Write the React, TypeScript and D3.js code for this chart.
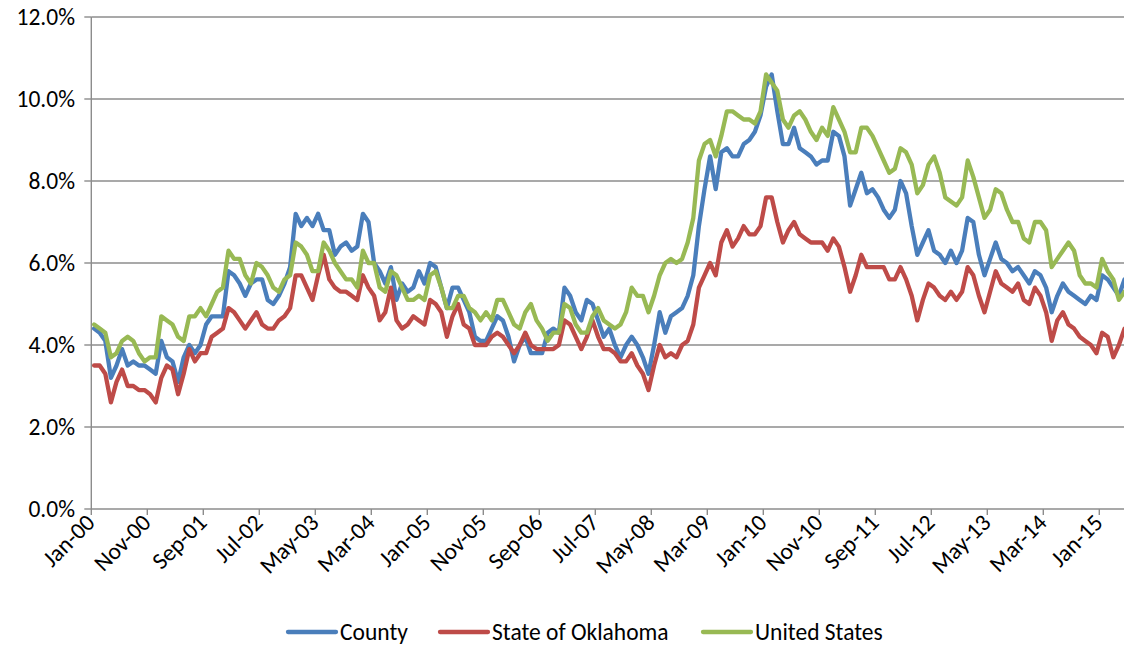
import React from 'react'
import * as d3 from 'd3'

// monthly unemployment rate, Jan-00 .. May-15 (percent)
const county = [
  4.4, 4.3, 4.1, 3.2, 3.5, 3.9, 3.5, 3.6, 3.5, 3.5, 3.4, 3.3,
  4.1, 3.7, 3.6, 3.1, 3.7, 4.0, 3.8, 4.0, 4.5, 4.7, 4.7, 4.7,
  5.8, 5.7, 5.5, 5.2, 5.5, 5.6, 5.6, 5.1, 5.0, 5.2, 5.5, 5.9,
  7.2, 6.9, 7.1, 6.9, 7.2, 6.8, 6.8, 6.2, 6.4, 6.5, 6.3, 6.4,
  7.2, 7.0, 6.0, 5.8, 5.5, 5.9, 5.1, 5.5, 5.3, 5.4, 5.8, 5.5,
  6.0, 5.9, 5.4, 4.9, 5.4, 5.4, 5.1, 4.8, 4.2, 4.1, 4.1, 4.4,
  4.7, 4.6, 4.2, 3.6, 4.0, 4.2, 3.8, 3.8, 3.8, 4.3, 4.4, 4.3,
  5.4, 5.2, 4.8, 4.6, 5.1, 5.0, 4.6, 4.2, 4.4, 4.0, 3.7, 4.0,
  4.2, 4.0, 3.7, 3.3, 4.0, 4.8, 4.3, 4.7, 4.8, 4.9, 5.2, 5.7,
  6.9, 7.8, 8.6, 7.8, 8.7, 8.8, 8.6, 8.6, 8.9, 9.0, 9.2, 9.6,
  10.3, 10.6, 9.7, 8.9, 8.9, 9.3, 8.8, 8.7, 8.6, 8.4, 8.5, 8.5,
  9.2, 9.1, 8.6, 7.4, 7.8, 8.2, 7.7, 7.8, 7.6, 7.3, 7.1, 7.3,
  8.0, 7.7, 6.9, 6.2, 6.5, 6.8, 6.3, 6.2, 6.0, 6.3, 6.0, 6.3,
  7.1, 7.0, 6.2, 5.7, 6.1, 6.5, 6.1, 6.0, 5.8, 5.9, 5.7, 5.5,
  5.8, 5.7, 5.4, 4.8, 5.2, 5.5, 5.3, 5.2, 5.1, 5.0, 5.2, 5.1,
  5.7, 5.6, 5.4, 5.2, 5.6,
]

const oklahoma = [
  3.5, 3.5, 3.3, 2.6, 3.1, 3.4, 3.0, 3.0, 2.9, 2.9, 2.8, 2.6,
  3.2, 3.5, 3.4, 2.8, 3.3, 3.9, 3.6, 3.8, 3.8, 4.2, 4.3, 4.4,
  4.9, 4.8, 4.6, 4.4, 4.6, 4.8, 4.5, 4.4, 4.4, 4.6, 4.7, 4.9,
  5.7, 5.7, 5.4, 5.1, 5.7, 6.2, 5.6, 5.4, 5.3, 5.3, 5.2, 5.1,
  5.7, 5.4, 5.2, 4.6, 4.8, 5.4, 4.6, 4.4, 4.5, 4.7, 4.6, 4.5,
  5.1, 5.0, 4.8, 4.2, 4.7, 5.0, 4.5, 4.4, 4.0, 4.0, 4.0, 4.2,
  4.3, 4.2, 4.0, 3.8, 4.0, 4.3, 4.0, 3.9, 3.9, 3.9, 3.9, 4.0,
  4.6, 4.5, 4.2, 3.9, 4.2, 4.6, 4.2, 3.9, 3.9, 3.8, 3.6, 3.6,
  3.8, 3.5, 3.3, 2.9, 3.5, 4.0, 3.7, 3.8, 3.7, 4.0, 4.1, 4.5,
  5.4, 5.7, 6.0, 5.7, 6.5, 6.8, 6.4, 6.6, 6.9, 6.7, 6.7, 6.9,
  7.6, 7.6, 7.0, 6.5, 6.8, 7.0, 6.7, 6.6, 6.5, 6.5, 6.5, 6.3,
  6.6, 6.4, 5.9, 5.3, 5.7, 6.2, 5.9, 5.9, 5.9, 5.9, 5.6, 5.6,
  5.9, 5.6, 5.2, 4.6, 5.1, 5.5, 5.4, 5.2, 5.1, 5.3, 5.1, 5.3,
  5.9, 5.7, 5.2, 4.8, 5.3, 5.8, 5.5, 5.4, 5.3, 5.5, 5.1, 5.0,
  5.4, 5.2, 4.8, 4.1, 4.6, 4.8, 4.5, 4.4, 4.2, 4.1, 4.0, 3.8,
  4.3, 4.2, 3.7, 4.0, 4.4,
]

const unitedStates = [
  4.5, 4.4, 4.3, 3.7, 3.8, 4.1, 4.2, 4.1, 3.8, 3.6, 3.7, 3.7,
  4.7, 4.6, 4.5, 4.2, 4.1, 4.7, 4.7, 4.9, 4.7, 5.0, 5.3, 5.4,
  6.3, 6.1, 6.1, 5.7, 5.5, 6.0, 5.9, 5.7, 5.4, 5.3, 5.6, 5.7,
  6.5, 6.4, 6.2, 5.8, 5.8, 6.5, 6.3, 6.0, 5.8, 5.6, 5.6, 5.4,
  6.3, 6.0, 6.0, 5.4, 5.3, 5.8, 5.7, 5.4, 5.1, 5.1, 5.2, 5.1,
  5.7, 5.8, 5.4, 4.9, 4.9, 5.2, 5.2, 4.9, 4.8, 4.6, 4.8, 4.6,
  5.1, 5.1, 4.8, 4.5, 4.4, 4.8, 5.0, 4.6, 4.4, 4.1, 4.3, 4.3,
  5.0, 4.9, 4.5, 4.3, 4.3, 4.7, 4.9, 4.6, 4.5, 4.4, 4.5, 4.8,
  5.4, 5.2, 5.2, 4.8, 5.2, 5.7, 6.0, 6.1, 6.0, 6.1, 6.5, 7.1,
  8.5, 8.9, 9.0, 8.6, 9.1, 9.7, 9.7, 9.6, 9.5, 9.5, 9.4, 9.7,
  10.6, 10.4, 10.2, 9.5, 9.3, 9.6, 9.7, 9.5, 9.2, 9.0, 9.3, 9.1,
  9.8, 9.5, 9.2, 8.7, 8.7, 9.3, 9.3, 9.1, 8.8, 8.5, 8.2, 8.3,
  8.8, 8.7, 8.4, 7.7, 7.9, 8.4, 8.6, 8.2, 7.6, 7.5, 7.4, 7.6,
  8.5, 8.1, 7.6, 7.1, 7.3, 7.8, 7.7, 7.3, 7.0, 7.0, 6.6, 6.5,
  7.0, 7.0, 6.8, 5.9, 6.1, 6.3, 6.5, 6.3, 5.7, 5.5, 5.5, 5.4,
  6.1, 5.8, 5.6, 5.1, 5.3,
]

const tickLabels = [
  'Jan-00', 'Nov-00', 'Sep-01', 'Jul-02', 'May-03', 'Mar-04', 'Jan-05',
  'Nov-05', 'Sep-06', 'Jul-07', 'May-08', 'Mar-09', 'Jan-10', 'Nov-10',
  'Sep-11', 'Jul-12', 'May-13', 'Mar-14', 'Jan-15',
]
const tickEvery = 10
const yTicks = [0, 2, 4, 6, 8, 10, 12]

const series = [
  { name: 'County', values: county, color: '#4a7ebb' },
  { name: 'State of Oklahoma', values: oklahoma, color: '#be4b48' },
  { name: 'United States', values: unitedStates, color: '#98b954' },
]

const W = 1124
const H = 645
const left = 91.3
const monthWidth = 5.6
const right = left + monthWidth * county.length // chart runs slightly past the image edge
const top = 17
const bottom = 509
const font = 'Carlito, Calibri, Lato, sans-serif'
const grid = '#8c8c8c'
const fs = 23.5

const App = () => {
  const x = d3.scaleLinear().domain([-0.5, county.length - 0.5]).range([left, right])
  const y = d3.scaleLinear().domain([0, 12]).range([bottom, top])
  const line = d3.line<number>().x((d, i) => x(i)).y((d) => y(d))

  const legendX = [288, 440, 703]

  return (
    <svg
      width={W}
      height={H}
      style={{ position: 'absolute', left: 0, top: 0, background: '#fff' }}
      fontFamily={font}
    >
      {/* gridlines */}
      {yTicks.filter((t) => t > 0).map((t) => (
        <line key={t} x1={left} x2={right} y1={y(t)} y2={y(t)} stroke={grid} strokeWidth={1.4} />
      ))}
      {/* y axis */}
      <line x1={left} x2={left} y1={top} y2={bottom} stroke={grid} strokeWidth={1.4} />
      {yTicks.map((t) => (
        <g key={t}>
          <line x1={left - 7} x2={left} y1={y(t)} y2={y(t)} stroke={grid} strokeWidth={1.4} />
          <text x={75} y={y(t)} dy="0.36em" textAnchor="end" fontSize={fs} fill="#000">
            {d3.format('.1f')(t)}%
          </text>
        </g>
      ))}
      {/* x axis */}
      <line x1={left} x2={right} y1={bottom} y2={bottom} stroke={grid} strokeWidth={1.4} />
      {tickLabels.map((label, k) => {
        const bx = x(k * tickEvery - 0.5)
        const cx = x(k * tickEvery)
        return (
          <g key={label}>
            <line x1={bx} x2={bx} y1={bottom} y2={bottom + 6} stroke={grid} strokeWidth={1.4} />
            <text
              transform={`translate(${cx + 2},${bottom + 15}) rotate(-45)`}
              textAnchor="end"
              fontSize={fs}
              fill="#000"
            >
              {label}
            </text>
          </g>
        )
      })}
      {/* series */}
      {series.map((s) => (
        <path
          key={s.name}
          d={line(s.values) ?? ''}
          fill="none"
          stroke={s.color}
          strokeWidth={4.3}
          strokeLinejoin="round"
          strokeLinecap="round"
        />
      ))}
      {/* legend */}
      {series.map((s, i) => (
        <g key={s.name} transform={`translate(${legendX[i]},632)`}>
          <line x1={0} x2={48} y1={0} y2={0} stroke={s.color} strokeWidth={4.3} strokeLinecap="round" />
          <text x={52} y={0} dy="0.36em" fontSize={fs} fill="#000">{s.name}</text>
        </g>
      ))}
    </svg>
  )
}

export default App
